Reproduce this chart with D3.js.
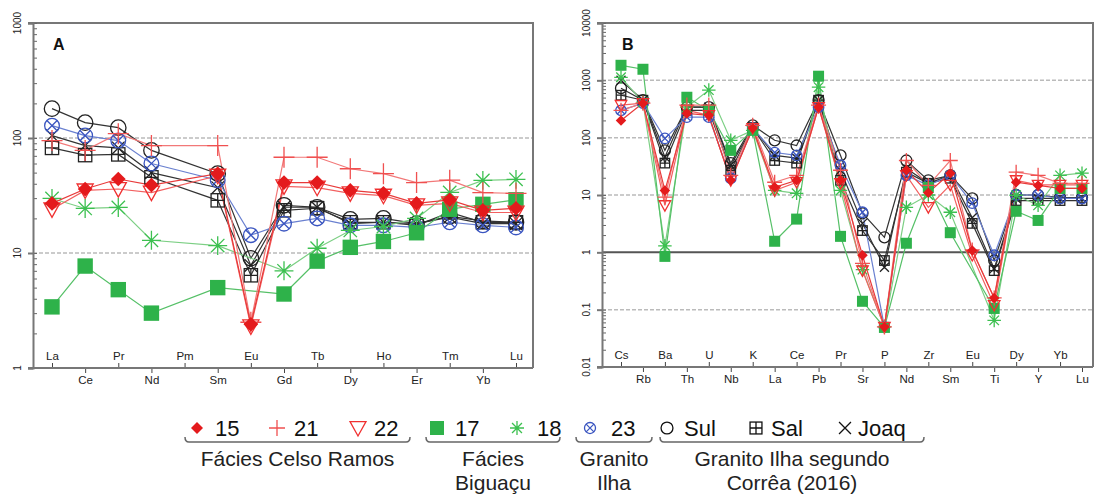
<!DOCTYPE html>
<html>
<head>
<meta charset="utf-8">
<script src="https://cdn.jsdelivr.net/npm/d3@7"></script>
<style>
  body { margin: 0; background: #fff; }
  svg { font-family: "Liberation Sans", Arial, sans-serif; }
</style>
</head>
<body>
<div id="chart"></div>
<script>
// Elements on each spider diagram
const elementsA = ["La","Ce","Pr","Nd","Pm","Sm","Eu","Gd","Tb","Dy","Ho","Er","Tm","Yb","Lu"];
const elementsB = ["Cs","Rb","Ba","Th","U","Nb","K","La","Ce","Pb","Pr","Sr","P","Nd","Zr","Sm","Eu","Ti","Dy","Y","Yb","Lu"];

const ticksA = [1, 10, 100, 1000];
const ticksB = [0.01, 0.1, 1, 10, 100, 1000, 10000];

const seriesNames = ["Sul","Sal","Joaq","23","18","17","22","21","15"];

// Diagram A values (REE), null = not plotted
const a15   = [27, 36, 44, 39, null, 49, 2.4, 41, 41, 35, 33, 27, 29, 23.5, 24.5];
const a21   = [95, 78, 109, 86, null, 86, 2.5, 68, 68, 54, 49, 41, 43, 33.5, 33];
const a22   = [24, 35, 36, 33.5, null, 47, 2.3, 38, 37, 33, 31.5, 26, 27, 22.5, 22.5];
const a17   = [3.4, 7.7, 4.8, 3.0, null, 5.0, null, 4.4, 8.5, 11.2, 12.6, 15, 24, 26.5, 29];
const a18   = [29.8, 24.4, 24.9, 12.9, null, 11.6, null, 7.0, 11, 15.7, 17, 20, 33.6, 42.8, 43.7];
const a23   = [128, 105, 95, 60, null, 43, 14.3, 18, 20, 17.4, 17.4, 16.7, 18.5, 17.4, 16.7];
const aSul  = [180, 136, 123, 78, null, 49, 9, 26, 25, 19.6, 20, 18, 20.8, 19, 18.5];
const aSal  = [82, 71, 72, 45.5, null, 28.7, 6.4, 23.5, 24.5, 18.5, 18.5, 17.4, 22.5, 18.5, 18.5];
const aJoaq = [105, 86, 82, 50, null, 37, 7.8, 25, 25, 18, 18.5, 18, 20.5, 18, 18];

// Diagram B values (multi-element)
const b15   = [200, 400, 12, 265, 245, 18, 146, 13.6, 18, 340, 18, 0.89, 0.05, 27, 11, 24, 1.08, 0.16, 16.7, 14.7, 13, 13];
const b21   = [300, 400, 9.2, 370, 370, 22, 164, 16.7, 22, 370, 27, 0.64, 0.05, 40, 14.7, 40, 1.1, 0.16, 25, 22, 16, 16];
const b22   = [370, 400, 6.6, 300, 245, 18, 146, 12, 16.7, 340, 16, 0.48, 0.05, 22, 6.1, 15, 0.89, 0.12, 18, 15, 15, 15];
const b17   = [1830, 1560, 0.85, 507, 300, 60, 134, 1.56, 3.8, 1180, 1.9, 0.14, 0.049, 1.44, 13.6, 2.2, null, 0.105, 5.2, 3.6, 13, 13];
const b18   = [1130, 416, 1.3, 340, 676, 90, 134, 12, 10.7, 760, 12, 0.5, 0.05, 6.1, 10, 5, null, 0.065, 9.9, 6.6, 22, 24];
const b23   = [300, 400, 97, 228, 228, 19.6, 146, 55, 49, 340, 33, 5, 0.05, 22, 14.7, 22, 7.2, 0.89, 10, 10, 8.7, 8.7];
const bSul  = [730, 450, 60, 340, 340, 36, 164, 90, 73, 450, 49, 4.8, 1.83, 40, 18, 22, 8.7, 0.72, 10, 10, 9, 9];
const bSal  = [550, 450, 36, 300, 300, 27, 150, 40, 36, 450, 18, 2.4, 0.72, 25, 16, 19.6, 3.2, 0.48, 8, 8, 8, 8];
const bJoaq = [1000, 450, 46, 340, 340, 33, 150, 49, 44, 450, 27, 3.2, 0.55, 29, 16, 22, 4, 0.52, 8.7, 8.7, 8.7, 8.7];

const valuesA = { "15": a15, "21": a21, "22": a22, "17": a17, "18": a18, "23": a23, "Sul": aSul, "Sal": aSal, "Joaq": aJoaq };
const valuesB = { "15": b15, "21": b21, "22": b22, "17": b17, "18": b18, "23": b23, "Sul": bSul, "Sal": bSal, "Joaq": bJoaq };

// look of each series
const style = {
  "15":   { shape: "diamond",  color: "#e41a1c", line: "#e83a3a" },
  "21":   { shape: "plus",     color: "#f05050", line: "#f27878" },
  "22":   { shape: "triangle", color: "#f03030", line: "#f26060" },
  "17":   { shape: "square",   color: "#2eb24a", line: "#55c067" },
  "18":   { shape: "asterisk", color: "#3cc050", line: "#7ccf84" },
  "23":   { shape: "circlex",  color: "#3a55c0", line: "#6a80d0" },
  "Sul":  { shape: "circle",   color: "#222",    line: "#333" },
  "Sal":  { shape: "squareplus", color: "#222",  line: "#333" },
  "Joaq": { shape: "cross",    color: "#222",    line: "#333" }
};

const W = 1096, H = 499;
const svg = d3.select("#chart").append("svg")
    .attr("width", W).attr("height", H);

// draw one marker shape at 0,0, size s = half-width
function marker(g, shape, color, s) {
  const sw = 1.3;
  if (shape === "diamond") {
    g.append("path").attr("d", `M0,${-s}L${s},0L0,${s}L${-s},0Z`).attr("fill", color);
  } else if (shape === "plus") {
    g.append("path").attr("d", `M${-s},0H${s}M0,${-s}V${s}`).attr("stroke", color).attr("stroke-width", sw);
  } else if (shape === "triangle") {
    g.append("path").attr("d", `M${-s},${-s * 0.8}L${s},${-s * 0.8}L0,${s}Z`)
      .attr("fill", "none").attr("stroke", color).attr("stroke-width", sw);
  } else if (shape === "square") {
    g.append("rect").attr("x", -s).attr("y", -s).attr("width", 2 * s).attr("height", 2 * s).attr("fill", color);
  } else if (shape === "asterisk") {
    const d = s * 0.707;
    g.append("path").attr("d", `M${-s},0H${s}M0,${-s}V${s}M${-d},${-d}L${d},${d}M${-d},${d}L${d},${-d}`)
      .attr("stroke", color).attr("stroke-width", sw);
  } else if (shape === "circlex") {
    const d = s * 0.7;
    g.append("circle").attr("r", s).attr("fill", "none").attr("stroke", color).attr("stroke-width", sw);
    g.append("path").attr("d", `M${-d},${-d}L${d},${d}M${-d},${d}L${d},${-d}`).attr("stroke", color).attr("stroke-width", sw);
  } else if (shape === "circle") {
    g.append("circle").attr("r", s).attr("fill", "none").attr("stroke", color).attr("stroke-width", sw);
  } else if (shape === "squareplus") {
    g.append("rect").attr("x", -s).attr("y", -s).attr("width", 2 * s).attr("height", 2 * s)
      .attr("fill", "none").attr("stroke", color).attr("stroke-width", sw);
    g.append("path").attr("d", `M${-s},0H${s}M0,${-s}V${s}`).attr("stroke", color).attr("stroke-width", sw);
  } else if (shape === "cross") {
    g.append("path").attr("d", `M${-s},${-s}L${s},${s}M${-s},${s}L${s},${-s}`).attr("stroke", color).attr("stroke-width", sw);
  }
}

// marker sizes per shape, relative
const sizeFactor = { diamond: 1.05, plus: 1.5, triangle: 1.15, square: 1.1, asterisk: 1.35, circlex: 1.05, circle: 1.1, squareplus: 0.95, cross: 0.9 };

function drawPanel(cfg) {
  const g = svg.append("g");
  const x = d3.scalePoint().domain(cfg.elements).range(cfg.xRange);
  const y = d3.scaleLog().domain(cfg.domain).range([cfg.bottom, cfg.top]);

  // gridlines
  g.selectAll(".grid").data(cfg.ticks.filter(t => t !== cfg.domain[0] && t !== cfg.domain[1]))
    .enter().append("line")
    .attr("x1", cfg.left).attr("x2", cfg.right)
    .attr("y1", d => y(d)).attr("y2", d => y(d))
    .attr("stroke", d => d === cfg.solid ? "#555" : "#bbb")
    .attr("stroke-width", d => d === cfg.solid ? 2 : 1.5)
    .attr("stroke-dasharray", d => d === cfg.solid ? null : "4,2");

  // frame top/right
  g.append("path")
    .attr("d", `M${cfg.left - 5},${cfg.top}H${cfg.right}V${cfg.bottom}`)
    .attr("fill", "none").attr("stroke", "#777").attr("stroke-width", 2);

  // y axis: minor ticks inside, major ticks outside
  const minor = y.ticks();
  g.append("g").attr("transform", `translate(${cfg.left},0)`)
    .call(d3.axisRight(y).tickValues(minor).tickSize(4).tickFormat(""))
    .call(a => a.select(".domain").remove())
    .call(a => a.selectAll("line").attr("stroke", "#666"));
  g.append("g").attr("transform", `translate(${cfg.left},0)`)
    .call(d3.axisLeft(y).tickValues(cfg.ticks).tickSize(5).tickFormat(""))
    .call(a => a.select(".domain").attr("stroke", "#777").attr("stroke-width", 2))
    .call(a => a.selectAll("line").attr("stroke", "#777").attr("stroke-width", 2));
  g.selectAll(".ylab").data(cfg.ticks).enter().append("text")
    .attr("transform", d => `translate(${cfg.left - 16},${y(d)}) rotate(-90)`)
    .attr("text-anchor", "middle").attr("dy", "0.35em")
    .attr("font-size", 10).attr("fill", "#222")
    .text(d => d3.format("~g")(d));

  // x axis: alternating labels above and below the line
  const upper = cfg.elements.filter((e, i) => i % 2 === 0);
  const lower = cfg.elements.filter((e, i) => i % 2 === 1);
  g.append("g").attr("transform", `translate(0,${cfg.bottom})`)
    .call(d3.axisTop(x).tickValues(upper).tickSize(5).tickPadding(3))
    .call(a => a.select(".domain").remove())
    .call(a => a.selectAll("line").attr("stroke", "#444"))
    .call(a => a.selectAll("text").attr("font-size", 11.5).attr("fill", "#222").attr("font-family", null));
  g.append("g").attr("transform", `translate(0,${cfg.bottom})`)
    .call(d3.axisBottom(x).tickValues(lower).tickSize(5).tickPadding(3))
    .call(a => a.select(".domain").remove())
    .call(a => a.selectAll("line").attr("stroke", "#444"))
    .call(a => a.selectAll("text").attr("font-size", 11.5).attr("fill", "#222").attr("font-family", null));
  g.append("line").attr("x1", cfg.left - 5).attr("x2", cfg.right)
    .attr("y1", cfg.bottom).attr("y2", cfg.bottom)
    .attr("stroke", "#777").attr("stroke-width", 2);

  // panel letter
  g.append("text").attr("x", cfg.left + 20).attr("y", cfg.top + 27)
    .attr("font-size", 16).attr("font-weight", "bold").attr("fill", "#111").text(cfg.letter);

  // series lines
  const line = d3.line()
    .x(d => x(d.e)).y(d => y(d.v));
  seriesNames.forEach(name => {
    const pts = cfg.elements.map((e, i) => ({ e, v: cfg.values[name][i] })).filter(d => d.v != null);
    g.append("path").datum(pts)
      .attr("d", line)
      .attr("fill", "none")
      .attr("stroke", style[name].line)
      .attr("stroke-width", 1.2);
  });
  // markers
  seriesNames.forEach(name => {
    const st = style[name];
    cfg.elements.forEach((e, i) => {
      const v = cfg.values[name][i];
      if (v == null) return;
      const m = g.append("g").attr("transform", `translate(${x(e)},${y(v)})`);
      marker(m, st.shape, st.color, cfg.msize * sizeFactor[st.shape]);
    });
  });
}

drawPanel({ elements: elementsA, values: valuesA, domain: [1, 1000], ticks: ticksA,
  xRange: [52, 516], left: 33, right: 533, top: 23, bottom: 368, letter: "A", msize: 7, solid: null });
drawPanel({ elements: elementsB, values: valuesB, domain: [0.01, 10000], ticks: ticksB,
  xRange: [621, 1082], left: 602, right: 1093, top: 23, bottom: 367, letter: "B", msize: 5, solid: 1 });

// legend
const legendItems = [
  { name: "15", sx: 197, tx: 215 },
  { name: "21", sx: 277, tx: 294 },
  { name: "22", sx: 358, tx: 374 },
  { name: "17", sx: 437, tx: 455 },
  { name: "18", sx: 517, tx: 537 },
  { name: "23", sx: 590, tx: 611 },
  { name: "Sul", sx: 667, tx: 684 },
  { name: "Sal", sx: 756, tx: 771 },
  { name: "Joaq", sx: 845, tx: 858 }
];
const legendGroups = [
  { x1: 185, x2: 410, lines: ["Fácies Celso Ramos"] },
  { x1: 426, x2: 560, lines: ["Fácies", "Biguaçu"] },
  { x1: 576, x2: 652, lines: ["Granito", "Ilha"] },
  { x1: 660, x2: 924, lines: ["Granito Ilha segundo", "Corrêa (2016)"] }
];
const legendShape = { "15": 6, "21": 8, "22": 8, "17": 7, "18": 7, "23": 6.5, "Sul": 7, "Sal": 7, "Joaq": 7 };
const lg = svg.append("g");
legendItems.forEach(it => {
  const st = style[it.name];
  const m = lg.append("g").attr("transform", `translate(${it.sx},428)`);
  let s = legendShape[it.name];
  if (st.shape === "circlex" || st.shape === "circle" || st.shape === "squareplus" || st.shape === "cross") {
    s = s * 0.85;
  }
  marker(m, st.shape, ["Sul","Sal","Joaq"].includes(it.name) ? "#111" : st.color, s);
  lg.append("text").attr("x", it.tx).attr("y", 436)
    .attr("font-size", 22).attr("fill", "#111").text(it.name);
});
legendGroups.forEach(gr => {
  const yb = 442;
  lg.append("path")
    .attr("d", `M${gr.x1},${yb - 5}Q${gr.x1},${yb} ${gr.x1 + 4},${yb}H${gr.x2 - 4}Q${gr.x2},${yb} ${gr.x2},${yb - 5}`)
    .attr("fill", "none").attr("stroke", "#666").attr("stroke-width", 1.5);
  gr.lines.forEach((t, i) => {
    lg.append("text").attr("x", (gr.x1 + gr.x2) / 2).attr("y", 466 + i * 24)
      .attr("text-anchor", "middle").attr("font-size", 21).attr("fill", "#222").text(t);
  });
});
</script>
</body>
</html>
